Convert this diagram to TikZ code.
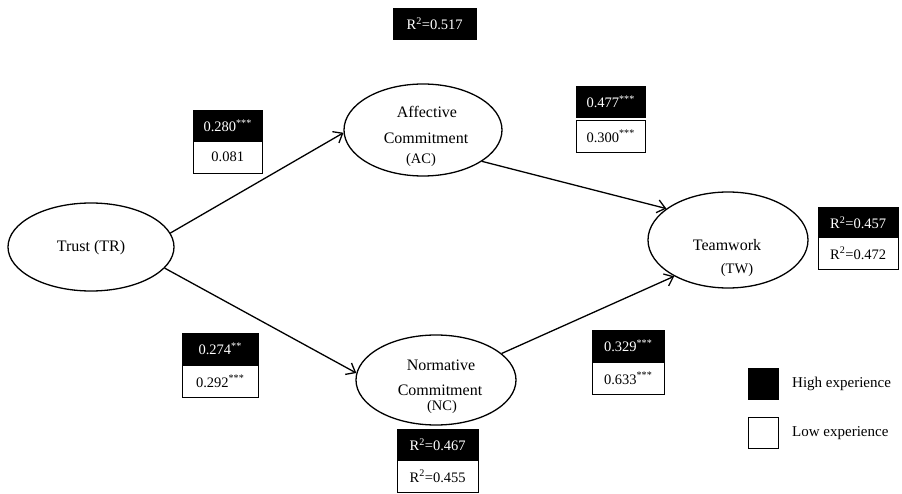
\documentclass[tikz,border=0pt]{standalone}
\usepackage{fontspec}
\setmainfont{Liberation Serif}
\usetikzlibrary{arrows.meta,shapes.geometric}
\begin{document}
\begin{tikzpicture}[x=1pt,y=-1pt,
  lat/.style={draw,line width=1.3pt,ellipse,minimum width=#1,inner sep=0pt},
  ltxt/.style={font=\fontsize{16}{18}\selectfont,inner sep=0pt},
  stxt/.style={font=\fontsize{14.5}{16}\selectfont,inner sep=0pt},
  hi/.style={draw,fill=black,text=white,minimum height=31,inner sep=0pt,font=\fontsize{14.5}{16}\selectfont,anchor=north west},
  lo/.style={draw,fill=white,text=black,minimum height=32,inner sep=0pt,font=\fontsize{14.5}{16}\selectfont,anchor=north west},
  path/.style={line width=1.3pt,-{Straight Barb[length=8pt,width=13pt,line width=1.3pt]}},
  legtxt/.style={anchor=west,inner sep=0pt,font=\fontsize{15}{17}\selectfont}]
\useasboundingbox (0,0) rectangle (902,494);
% latent variables
\node[lat=166, minimum height=88] (tr) at (91,247) {};
\node[ltxt] (trtxt) at (91,248) {Trust (TR)};
\node[lat=158, minimum height=92] (ac) at (423,130) {};
\node[ltxt] (actxt1) at (427,112) {Affective};
\node[ltxt] (actxt2) at (426,138) {Commitment};
\node[stxt] (actxt3) at (421,160) {(AC)};
\node[lat=160, minimum height=90] (nc) at (436,380) {};
\node[ltxt] (nctxt1) at (441,365) {Normative};
\node[ltxt] (nctxt2) at (440,390) {Commitment};
\node[stxt] (nctxt3) at (442,407) {(NC)};
\node[lat=160, minimum height=96] (tw) at (728,240) {};
\node[ltxt] (twtxt1) at (727,245) {Teamwork};
\node[stxt] (twtxt2) at (737,270) {(TW)};
% paths
\draw[path] (tr.10) -- (ac.182);
\draw[path] (tr.-16) -- (nc.175);
\draw[path] (ac.-28) -- (tw.153);
\draw[path] (nc.22) -- (tw.214);
% R2 top
\node[hi, minimum width=83] (r2ac) at (393,8) {R\textsuperscript{2}=0.517};
% coefficient boxes
\node[hi, minimum width=69] (b1h) at (193,110) {0.280\textsuperscript{***}};
\node[lo, minimum width=69] (b1l) at (193,141) {0.081};
\node[hi, minimum width=69] (b2h) at (576,86) {0.477\textsuperscript{***}};
\node[lo, minimum width=69] (b2l) at (576,120) {0.300\textsuperscript{***}};
\node[hi, minimum width=80] (b3h) at (818,207) {R\textsuperscript{2}=0.457};
\node[lo, minimum width=80] (b3l) at (818,237) {R\textsuperscript{2}=0.472};
\node[hi, minimum width=76] (b4h) at (182,333) {0.274\textsuperscript{**}};
\node[lo, minimum width=76] (b4l) at (182,365) {0.292\textsuperscript{***}};
\node[hi, minimum width=72] (b5h) at (592,330) {0.329\textsuperscript{***}};
\node[lo, minimum width=72] (b5l) at (592,362) {0.633\textsuperscript{***}};
\node[hi, minimum width=81] (b6h) at (397,429) {R\textsuperscript{2}=0.467};
\node[lo, minimum width=81] (b6l) at (397,460) {R\textsuperscript{2}=0.455};
% legend
\node[draw,fill=black,minimum width=30,minimum height=31,inner sep=0pt,anchor=north west] (lh) at (748,368) {};
\node[draw,fill=white,minimum width=30,minimum height=31,inner sep=0pt,anchor=north west] (ll) at (748,417) {};
\node[legtxt] (lht) at (792,384) {High experience};
\node[legtxt] (llt) at (792,433) {Low experience};
\end{tikzpicture}
\end{document}
